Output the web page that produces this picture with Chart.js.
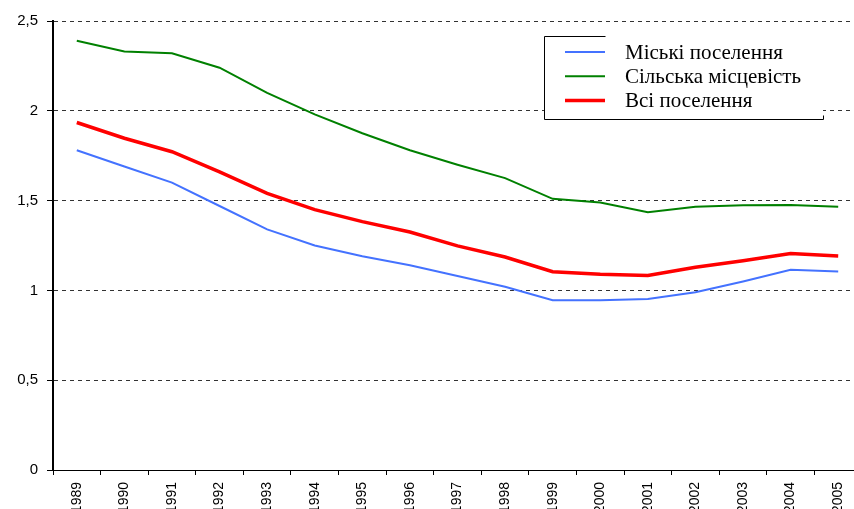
<!DOCTYPE html>
<html><head><meta charset="utf-8">
<script src="https://cdn.jsdelivr.net/npm/chart.js@4.4.0/dist/chart.umd.min.js"></script>
<style>
html,body{margin:0;padding:0;overflow:hidden;background:#fff;width:854px;height:509px}
#wrap{width:872px;height:509px}
</style></head>
<body><div id="wrap"><canvas id="c" width="872" height="509"></canvas></div>
<script>
const years = ['1989','1990','1991','1992','1993','1994','1995','1996','1997','1998','1999','2000','2001','2002','2003','2004','2005'];
const urban = [1.78,1.69,1.60,1.47,1.34,1.25,1.19,1.14,1.08,1.02,0.945,0.945,0.952,0.99,1.05,1.115,1.105];
const rural = [2.39,2.33,2.32,2.24,2.10,1.98,1.875,1.78,1.70,1.625,1.51,1.49,1.435,1.466,1.474,1.476,1.466];
const total = [1.935,1.847,1.772,1.66,1.54,1.45,1.383,1.325,1.248,1.186,1.104,1.09,1.083,1.129,1.165,1.206,1.192];
const yTicks = ['0','0,5','1','1,5','2','2,5'];
const seriesLabels = ['Міські поселення','Сільська місцевість','Всі поселення'];

const boxLegend = {
  id: 'boxLegend',
  afterDraw(chart) {
    const ctx = chart.ctx;
    ctx.save();
    ctx.fillStyle = '#fff';
    ctx.fillRect(545, 37, 278, 82);
    ctx.strokeStyle = '#000';
    ctx.lineWidth = 1;
    ctx.beginPath();
    ctx.moveTo(605.5, 36.5);
    ctx.lineTo(544.5, 36.5);
    ctx.lineTo(544.5, 119.5);
    ctx.lineTo(823.5, 119.5);
    ctx.lineTo(823.5, 115.5);
    ctx.stroke();
    ctx.font = '21px "Liberation Serif"';
    ctx.textBaseline = 'middle';
    ctx.textAlign = 'left';
    chart.data.datasets.forEach((ds, i) => {
      const y = 52 + i * 24.3;
      ctx.strokeStyle = ds.borderColor;
      ctx.lineWidth = ds.borderWidth;
      ctx.beginPath();
      ctx.moveTo(565, y);
      ctx.lineTo(605, y);
      ctx.stroke();
      ctx.fillStyle = '#000';
      ctx.fillText(ds.label, 625, y + 1);
    });
    ctx.restore();
  }
};

new Chart(document.getElementById('c'), {
  type: 'line',
  data: {
    labels: years,
    datasets: [
      {label: seriesLabels[0], data: urban, borderColor: '#4472ff', borderWidth: 2, pointRadius: 0, tension: 0, fill: false},
      {label: seriesLabels[1], data: rural, borderColor: '#008000', borderWidth: 2, pointRadius: 0, tension: 0, fill: false},
      {label: seriesLabels[2], data: total, borderColor: '#ff0000', borderWidth: 3.5, pointRadius: 0, tension: 0, fill: false}
    ]
  },
  options: {
    responsive: false,
    animation: false,
    layout: {padding: {top: 21, right: 10, bottom: 0, left: 0}},
    plugins: {legend: {display: false}, tooltip: {enabled: false}},
    scales: {
      x: {
        type: 'category',
        offset: true,
        grid: {display: true, drawOnChartArea: false, drawTicks: true, tickLength: 5, offset: true, tickColor: '#000', tickWidth: 1},
        border: {display: true, color: '#000', width: 1},
        ticks: {minRotation: 90, maxRotation: 90, autoSkip: false, padding: 7, color: '#000', font: {family: '"Liberation Sans"', size: 14}},
        afterFit(scale) { scale.height = 39; }
      },
      y: {
        min: 0, max: 2.5,
        grid: {color: '#333', lineWidth: 1, drawTicks: true, tickLength: 6, tickColor: '#000', tickWidth: 1, tickBorderDash: []},
        border: {display: true, color: '#000', width: 2, dash: [4, 4]},
        ticks: {stepSize: 0.5, padding: 9, color: '#000', font: {family: '"Liberation Sans"', size: 15},
          callback: (v, i) => yTicks[i]},
        afterFit(scale) { scale.width = 53; }
      }
    }
  },
  plugins: [boxLegend]
});
</script>
</body></html>
